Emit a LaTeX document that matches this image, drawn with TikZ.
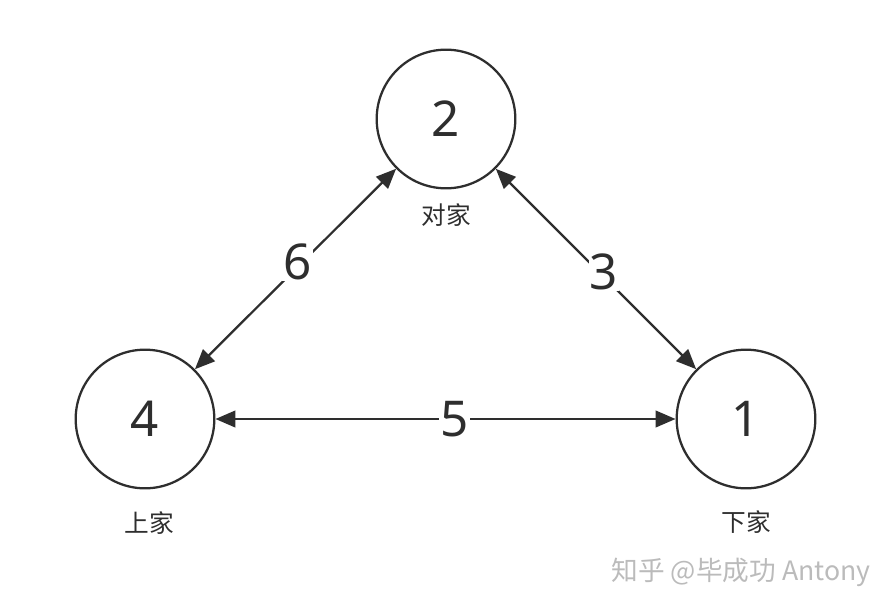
\documentclass[tikz,border=0pt]{standalone}
\usepackage{fontspec}
\setmainfont{Noto Sans}
\newfontfamily\cjk{Noto Sans CJK SC}
\usepackage{xcolor}
\usepackage{tikz}
\usetikzlibrary{arrows.meta,positioning}
\definecolor{ink}{HTML}{2E2E2E}
\definecolor{mark}{HTML}{BBBBBB}

\begin{document}
\begin{tikzpicture}[x=0.75pt,y=-0.75pt,
  seat/.style={circle, draw=ink, line width=1.7pt, minimum size=104pt, inner sep=0pt, font=\fontsize{37}{40}\selectfont, text=ink},
  role/.style={font=\cjk\fontsize{18.5}{20}\selectfont, text=ink},
  link/.style={draw=ink, line width=1.7pt, {Triangle[length=15pt,width=12.5pt]}-{Triangle[length=15pt,width=12.5pt]}},
  num/.style={fill=white, inner sep=1pt, font=\fontsize{37}{40}\selectfont, text=ink}]
\useasboundingbox (0,0) rectangle (896,610);
\node[seat] (p2) at (446,119) {2};
\node[seat] (p4) at (145,419) {4};
\node[seat] (p1) at (746,419) {1};
\node[role] (r2) at (446,215) {对家};
\node[role] (r4) at (149,523) {上家};
\node[role] (r1) at (746,522) {下家};
\draw[link] (p2) -- node[num, pos=0.49, yshift=4pt] {6} (p4);
\draw[link] (p2) -- node[num, pos=0.54, yshift=4pt] {3} (p1);
\draw[link] (p4) -- node[num, pos=0.52] {5} (p1);
\node[font=\cjk\fontsize{20}{22}\selectfont, text=mark] (wm) at (741,572) {知乎 @毕成功 Antony};
\end{tikzpicture}
\end{document}
